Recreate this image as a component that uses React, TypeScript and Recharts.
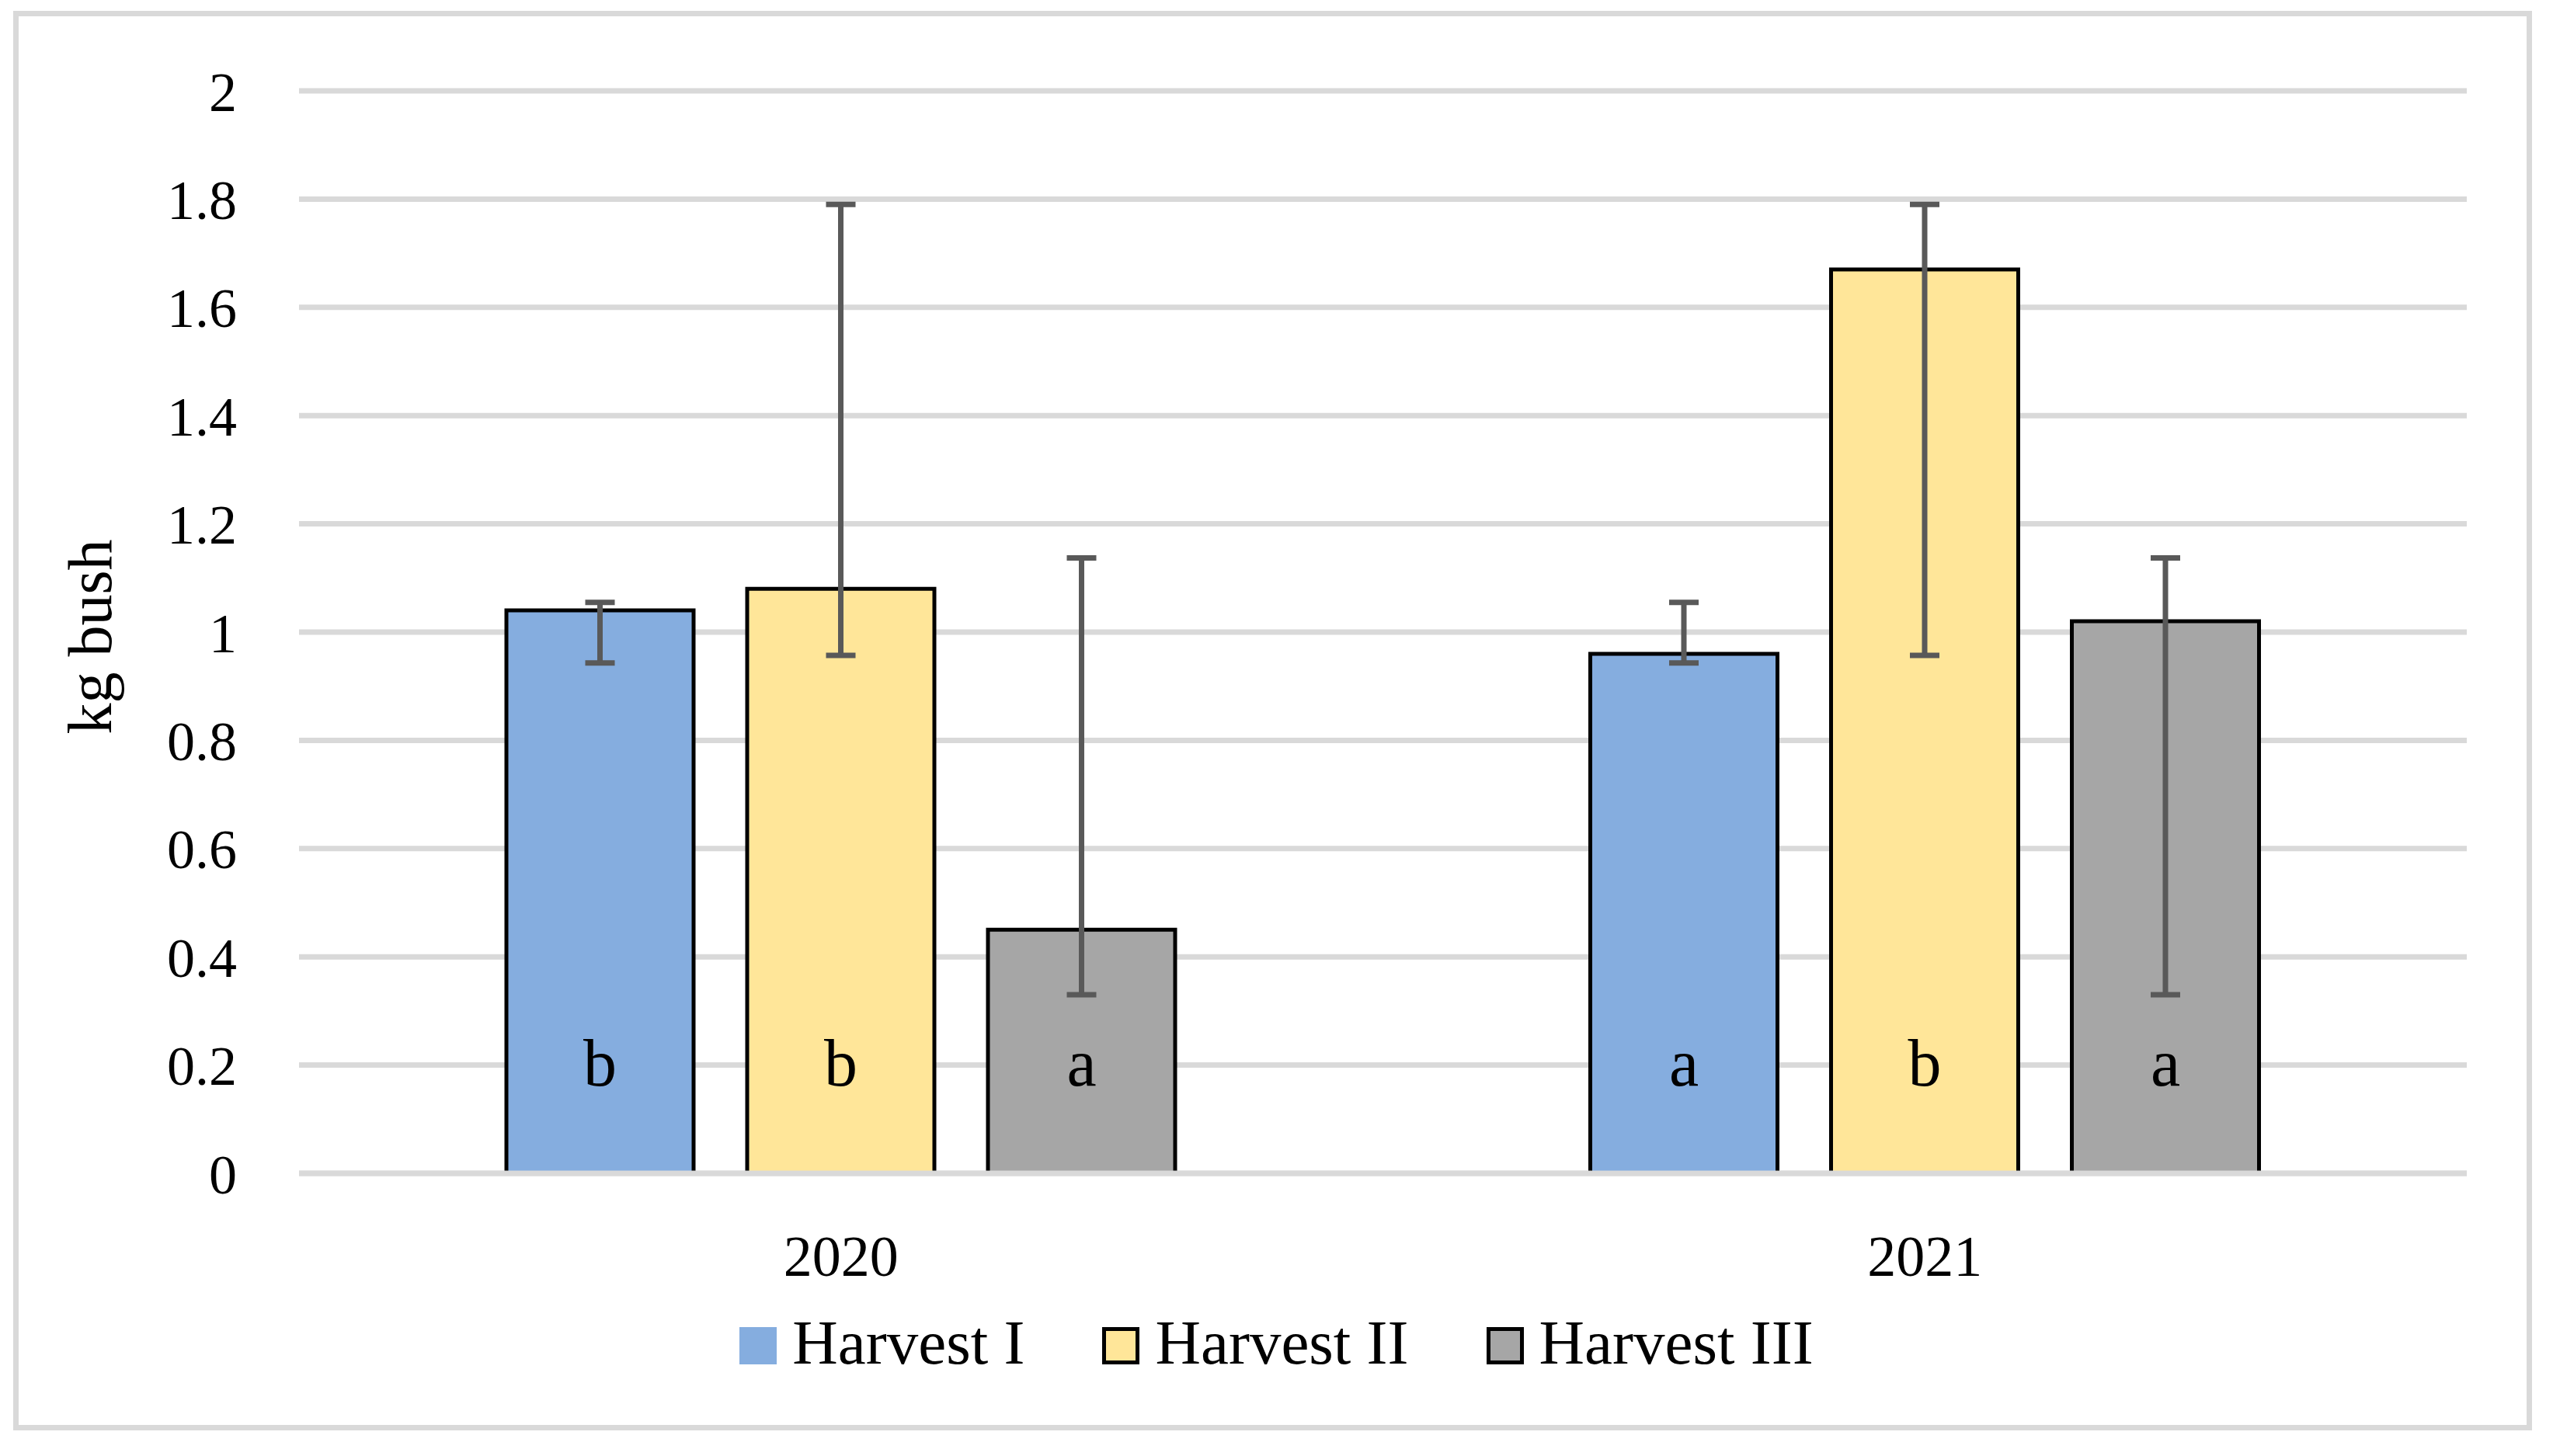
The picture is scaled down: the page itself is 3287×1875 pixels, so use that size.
import React from "react";
import {
  BarChart,
  Bar,
  XAxis,
  YAxis,
  CartesianGrid,
  ErrorBar,
  LabelList,
  Legend,
  ReferenceLine,
} from "recharts";

const YEARS = ["2020", "2021"];

const HARVEST_I = [1.04, 0.96];
const HARVEST_II = [1.08, 1.67];
const HARVEST_III = [0.45, 1.02];

// error bar ends (absolute values)
const HARVEST_I_HIGH = [1.055, 1.055];
const HARVEST_I_LOW = [0.943, 0.943];
const HARVEST_II_HIGH = [1.79, 1.79];
const HARVEST_II_LOW = [0.957, 0.957];
const HARVEST_III_HIGH = [1.137, 1.137];
const HARVEST_III_LOW = [0.33, 0.33];

// significance letters
const LETTERS_I = ["b", "a"];
const LETTERS_II = ["b", "b"];
const LETTERS_III = ["a", "a"];

const Y_TICKS = [0, 0.2, 0.4, 0.6, 0.8, 1, 1.2, 1.4, 1.6, 1.8, 2];

const SERIES = [
  { key: "h1", name: "Harvest I", color: "#85addf", legendBorder: false },
  { key: "h2", name: "Harvest II", color: "#ffe699", legendBorder: true },
  { key: "h3", name: "Harvest III", color: "#a6a6a6", legendBorder: true },
];

const data = YEARS.map((year, i) => ({
  year,
  h1: HARVEST_I[i],
  h2: HARVEST_II[i],
  h3: HARVEST_III[i],
  h1Err: [HARVEST_I[i] - HARVEST_I_LOW[i], HARVEST_I_HIGH[i] - HARVEST_I[i]],
  h2Err: [HARVEST_II[i] - HARVEST_II_LOW[i], HARVEST_II_HIGH[i] - HARVEST_II[i]],
  h3Err: [HARVEST_III[i] - HARVEST_III_LOW[i], HARVEST_III_HIGH[i] - HARVEST_III[i]],
  h1Letter: LETTERS_I[i],
  h2Letter: LETTERS_II[i],
  h3Letter: LETTERS_III[i],
}));

const FONT = "'Liberation Serif', 'Times New Roman', serif";

const renderLetter = (props: any) => {
  const { x, y, width, height, value } = props;
  return (
    <text
      x={x + width / 2}
      y={y + height - 113}
      textAnchor="middle"
      fontFamily={FONT}
      fontSize={86}
      fill="#000"
    >
      {value}
    </text>
  );
};

const renderLegend = () => (
  <div
    style={{
      display: "flex",
      justifyContent: "center",
      alignItems: "center",
      fontFamily: FONT,
      fontSize: 81,
      lineHeight: 1,
      color: "#000",
    }}
  >
    {SERIES.map((s, i) => (
      <div
        key={s.key}
        style={{ display: "flex", alignItems: "center", marginRight: i < SERIES.length - 1 ? 100 : 0 }}
      >
        <div
          style={{
            width: 48,
            height: 48,
            boxSizing: "border-box",
            background: s.color,
            border: s.legendBorder ? "5px solid #000" : "none",
            marginRight: 20,
          }}
        />
        <span style={{ position: "relative", top: -3 }}>{s.name}</span>
      </div>
    ))}
  </div>
);

export default function App() {
  return (
    <div style={{ position: "relative", width: 3287, height: 1875, background: "#fff" }}>
      <style>{"body{margin:0}"}</style>
      <div
        style={{
          position: "absolute",
          left: 17,
          top: 14,
          width: 3243,
          height: 1828,
          border: "7px solid #d9d9d9",
          boxSizing: "border-box",
        }}
      />
      <div style={{ position: "absolute", left: 0, top: 0 }}>
        <BarChart
          width={3287}
          height={1875}
          data={data}
          margin={{ top: 117, right: 111, bottom: 304, left: 0 }}
          barSize={241}
          barGap={69}
        >
          <CartesianGrid vertical={false} stroke="#d9d9d9" strokeWidth={7} />
          <XAxis
            dataKey="year"
            height={60}
            axisLine={false}
            tickLine={false}
            tickSize={0}
            tickMargin={79}
            tick={{ fontFamily: FONT, fontSize: 74, fill: "#000" }}
          />
          <YAxis
            width={385}
            domain={[0, 2]}
            ticks={Y_TICKS}
            axisLine={false}
            tickLine={false}
            tickSize={0}
            tickMargin={80}
            tick={{ fontFamily: FONT, fontSize: 72, fill: "#000" }}
            label={{
              content: (props: any) => {
                const vb = props.viewBox || { x: 0, y: 117, height: 1394 };
                const cy = vb.y + vb.height / 2 + 6;
                return (
                  <text
                    transform={`translate(${vb.x + 143}, ${cy}) rotate(-90)`}
                    textAnchor="middle"
                    fontFamily={FONT}
                    fontSize={80}
                    fill="#000"
                  >
                    kg bush
                  </text>
                );
              },
            }}
          />
          {SERIES.map((s) => (
            <Bar
              key={s.key}
              dataKey={s.key}
              name={s.name}
              fill={s.color}
              stroke="#000"
              strokeWidth={5}
              isAnimationActive={false}
            >
              <ErrorBar
                dataKey={`${s.key}Err`}
                direction="y"
                width={19}
                stroke="#595959"
                strokeWidth={7}
                isAnimationActive={false}
              />
              <LabelList dataKey={`${s.key}Letter`} content={renderLetter} />
            </Bar>
          ))}
          <ReferenceLine y={0} stroke="#d9d9d9" strokeWidth={7} />
          <Legend
            verticalAlign="middle"
            align="center"
            layout="horizontal"
            content={renderLegend}
            wrapperStyle={{ top: 1692, left: 0, width: 3287 }}
          />
        </BarChart>
      </div>
    </div>
  );
}
